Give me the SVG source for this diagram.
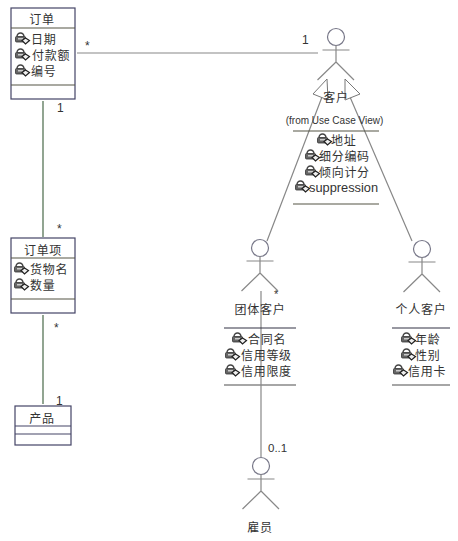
<svg xmlns="http://www.w3.org/2000/svg" width="458" height="541" viewBox="0 0 458 541">
<style>
text{font-family:"Noto Sans CJK SC","Liberation Sans",sans-serif;font-size:12px;letter-spacing:.7px;fill:#333}
.m{text-anchor:middle}
.l{font-family:"Liberation Sans",sans-serif;letter-spacing:0}
.n{font-size:12px}
.box{fill:#fff;stroke:#444466;stroke-width:1.2}
.sep{stroke:#555544;stroke-width:1.2;fill:none}
.g{stroke:#888;stroke-width:1.2;fill:none}
.c{stroke:#4a6a4a;stroke-width:1.2;fill:none}
.tri{fill:#fff;stroke:#777;stroke-width:1}
.cl{fill:#fff;stroke:#778;stroke-width:1.2}
</style>
<defs>
<g id="lock"><path d="M2 4.500a3.500 3.500 0 0 1 7 0" fill="none" stroke="#444" stroke-width="1.500"/><rect x="0.500" y="4.500" width="10" height="5.500" rx="1" fill="#666" stroke="#333" stroke-width=".8"/><rect x="3" y="6" width="5" height="1.500" fill="#ccc"/><path d="M7 8.500l3.500-2.500 4 2.500-4 3.500z" fill="#eee" stroke="#222" stroke-width="1.200"/></g>
<g id="actor"><circle cx="0" cy="0" r="8.500" class="cl"/><path d="M0 8.500V25M-13.500 13H13.500M0 25L-18.500 43M0 25L18 43" class="g"/></g>
</defs>
<g id="connectors">
<path d="M77 53H318" class="g"/>
<path d="M43 101V237M43 315V404" class="c"/>
<path d="M322 97L267 241M350 97L412 241" class="g"/>
<path d="M261 291V457" class="g"/>
<text x="85" y="50" class="l n">*</text>
<text x="302" y="44" class="l n">1</text>
<text x="57" y="112" class="l n">1</text>
<text x="57" y="233" class="l n">*</text>
<text x="54" y="332" class="l n">*</text>
<text x="56" y="405" class="l n">1</text>
<text x="274" y="298" class="l n" style="font-size:11px">*</text>
<text x="268" y="452" class="l n" style="font-size:11.500px">0..1</text>
</g>
<g id="order">
<rect x="11" y="8" width="64" height="91" class="box"/>
<path d="M11 28H75M11 85H75" class="sep"/>
<text x="42" y="24" class="m">订单</text>
<use href="#lock" x="15" y="32"/><text x="31" y="44">日期</text>
<use href="#lock" x="15" y="48"/><text x="32" y="60">付款额</text>
<use href="#lock" x="15" y="64"/><text x="31" y="76">编号</text>
</g>
<g id="orderitem">
<rect x="11" y="238" width="64" height="75" class="box"/>
<path d="M11 258H75M11 299H75" class="sep"/>
<text x="43" y="255" class="m">订单项</text>
<use href="#lock" x="14" y="262"/><text x="30" y="274">货物名</text>
<use href="#lock" x="14" y="278"/><text x="30" y="290">数量</text>
</g>
<g id="product">
<rect x="15" y="406" width="56" height="39" class="box"/>
<path d="M15 426H71M15 434H71" class="box"/>
<text x="42" y="423" class="m">产品</text>
</g>
<g id="customer">
<use href="#actor" x="336" y="37"/>
<path d="M327 79L313 94L328 100Z" class="tri"/>
<path d="M345 79L360 94L345 100Z" class="tri"/>
<text x="336" y="102" class="m">客户</text>
<text x="334.500" y="124" class="m l" style="font-size:10px">(from Use Case View)</text>
<path d="M293 131H379M293 204H379" class="sep"/>
<use href="#lock" x="317" y="133"/><text x="331" y="145">地址</text>
<use href="#lock" x="305" y="149"/><text x="319" y="161">细分编码</text>
<use href="#lock" x="305" y="165"/><text x="319" y="177">倾向计分</text>
<use href="#lock" x="295" y="180"/><text x="309" y="192" class="l" style="font-size:12.800px">suppression</text>
</g>
<g id="corporate">
<use href="#actor" x="260" y="248"/>
<text x="260" y="314" class="m">团体客户</text>
<path d="M224 328H296" class="sep" style="stroke:#334"/>
<path d="M224 385H296" class="g" style="stroke-width:1.600"/>
<use href="#lock" x="232" y="332"/><text x="248" y="344">合同名</text>
<use href="#lock" x="225" y="348"/><text x="241" y="360">信用等级</text>
<use href="#lock" x="225" y="364"/><text x="241" y="376">信用限度</text>
</g>
<g id="personal">
<use href="#actor" x="422" y="249"/>
<text x="421" y="314" class="m">个人客户</text>
<path d="M392 328H450" class="sep" style="stroke:#334"/>
<path d="M392 385H450" class="g" style="stroke-width:1.600"/>
<use href="#lock" x="401" y="332"/><text x="415" y="344">年龄</text>
<use href="#lock" x="401" y="348"/><text x="415" y="360">性别</text>
<use href="#lock" x="393" y="364"/><text x="408" y="376">信用卡</text>
</g>
<g id="employee">
<use href="#actor" x="261" y="466"/>
<text x="260" y="532" class="m">雇员</text>
</g>
</svg>
